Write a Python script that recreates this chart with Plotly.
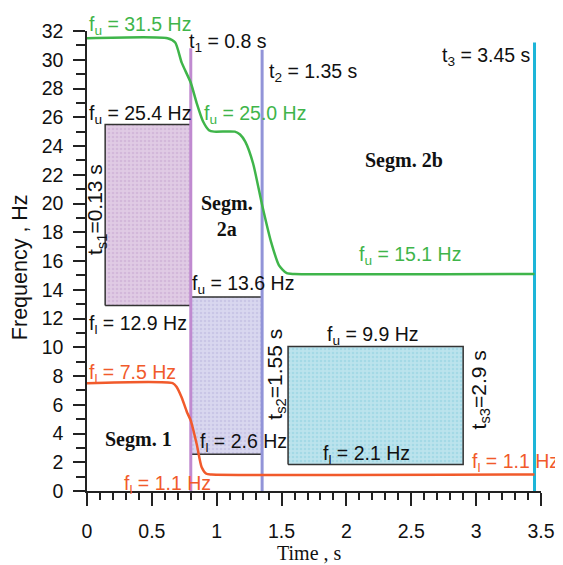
import plotly.graph_objects as go

# ---- data ----
# upper frequency envelope f_u(t)
t_u = [0, 0.62, 0.68, 0.73, 0.80, 0.845, 0.895, 0.94, 0.98, 1.14, 1.18, 1.22, 1.28, 1.35, 1.42, 1.48, 1.54, 1.60, 3.45]
f_u = [31.5, 31.5, 31.2, 29.8, 28.4, 27.0, 25.7, 25.1, 25.0, 25.0, 24.8, 24.3, 22.8, 19.9, 17.3, 15.7, 15.15, 15.1, 15.1]
# lower frequency envelope f_l(t)
t_l = [0, 0.66, 0.69, 0.73, 0.77, 0.80, 0.846, 0.884, 0.92, 0.96, 3.45]
f_l = [7.5, 7.5, 7.25, 6.5, 5.5, 4.9, 3.25, 1.65, 1.2, 1.15, 1.15]

# segment boundary times and their line tops
t_marks = [0.8, 1.35, 3.45]
t_mark_tops = [30.8, 30.7, 31.2]

# segment rectangles: (t_start, t_end, f_low, f_up)
rect_t0 = [0.14, 0.80, 1.55]
rect_t1 = [0.80, 1.35, 2.90]
rect_flo = [12.9, 2.55, 1.85]
rect_fup = [25.5, 13.5, 10.05]

x_ticks = [0, 0.5, 1, 1.5, 2, 2.5, 3, 3.5]
x_tick_text = ["0", "0.5", "1", "1.5", "2", "2.5", "3", "3.5"]
y_ticks = list(range(0, 33, 2))

# ---- styles ----
GREEN = "#3fb54a"
RED = "#f15a2b"
mark_colors = ["#c08ad0", "#9294d8", "#1cb5d8"]
rect_fill = ["#e0cbe4", "#d9d7ef", "#bce3ed"]
rect_dots = ["#c6a5cf", "#b9b6dd", "#8ccfe0"]
SANS = "Liberation Sans, Arial, sans-serif"
SERIF = "Liberation Serif, Times New Roman, serif"

fig = go.Figure()

for x0, x1, y0, y1, fc, dc in zip(rect_t0, rect_t1, rect_flo, rect_fup, rect_fill, rect_dots):
    fig.add_trace(go.Scatter(
        x=[x0, x1, x1, x0, x0], y=[y0, y0, y1, y1, y0],
        mode="lines", fill="toself", fillcolor=fc,
        fillpattern=dict(shape=".", bgcolor=fc, fgcolor=dc, size=4, solidity=0.35),
        line=dict(color="#333333", width=1.5), hoverinfo="skip", showlegend=False))

for t, top, c in zip(t_marks, t_mark_tops, mark_colors):
    fig.add_trace(go.Scatter(x=[t, t], y=[0, top], mode="lines",
                             line=dict(color=c, width=3), showlegend=False))

fig.add_trace(go.Scatter(x=t_u, y=f_u, mode="lines",
                         line=dict(color=GREEN, width=2.5, shape="spline", smoothing=0.6),
                         showlegend=False))
fig.add_trace(go.Scatter(x=t_l, y=f_l, mode="lines",
                         line=dict(color=RED, width=2.5, shape="spline", smoothing=0.6),
                         showlegend=False))

# ---- text labels: (text, x, y, color, anchor) ----
labels = [
    ("t<sub>1</sub> = 0.8 s", 0.77, 31.2, "#111", "left"),
    ("t<sub>2</sub> = 1.35 s", 1.385, 29.1, "#111", "left"),
    ("t<sub>3</sub> = 3.45 s", 3.44, 30.2, "#111", "right"),
    ("f<sub>u</sub> = 25.4 Hz", 0.0, 26.2, "#111", "left"),
    ("f<sub>u</sub> = 25.0 Hz", 0.885, 26.2, GREEN, "left"),
    ("f<sub>u</sub> = 13.6 Hz", 0.795, 14.4, "#111", "left"),
    ("f<sub>l</sub> = 12.9 Hz", 0.0, 11.6, "#111", "left"),
    ("f<sub>l</sub> = 7.5 Hz", 0.0, 8.2, RED, "left"),
    ("f<sub>l</sub> = 2.6 Hz", 0.856, 3.35, "#111", "left"),
    ("f<sub>l</sub> = 1.1 Hz", 0.27, 0.45, RED, "left"),
    ("f<sub>u</sub> = 9.9 Hz", 1.835, 10.85, "#111", "left"),
    ("f<sub>l</sub> = 2.1 Hz", 1.804, 2.55, "#111", "left"),
    ("f<sub>l</sub> = 1.1 Hz", 2.953, 2.0, RED, "left"),
    ("f<sub>u</sub> = 15.1 Hz", 2.08, 16.4, GREEN, "left"),
]
for txt, x, y, c, anc in labels:
    fig.add_annotation(x=x, y=y, xref="x", yref="y", text=txt, showarrow=False,
                       xanchor=anc, yanchor="middle",
                       font=dict(family=SANS, size=19.5, color=c))

# top label sits above the y range -> paper coordinates in y
fig.add_annotation(x=0.0, y=32.4 / 32, xref="x", yref="paper",
                   text="f<sub>u</sub> = 31.5 Hz", showarrow=False,
                   xanchor="left", yanchor="middle",
                   font=dict(family=SANS, size=19.5, color=GREEN))

rot_labels = [
    ("t<sub>s1</sub>=0.13 s", 0.075, 19.6),
    ("t<sub>s2</sub>=1.55 s", 1.45, 8.1),
    ("t<sub>s3</sub>=2.9 s", 3.03, 7.0),
]
for txt, x, y in rot_labels:
    fig.add_annotation(x=x, y=y, xref="x", yref="y", text=txt, showarrow=False,
                       textangle=-90, xanchor="center", yanchor="middle",
                       font=dict(family=SANS, size=21, color="#111"))

seg_labels = [
    ("Segm. 1", 0.40, 3.6),
    ("Segm.<br>2a", 1.077, 19.1),
    ("Segm. 2b", 2.445, 23.0),
]
for txt, x, y in seg_labels:
    fig.add_annotation(x=x, y=y, xref="x", yref="y", text="<b>" + txt + "</b>",
                       showarrow=False, xanchor="center", yanchor="middle",
                       font=dict(family=SERIF, size=20, color="#111"))

# axis titles
fig.add_annotation(x=0.491, y=-0.135, xref="paper", yref="paper", text="Time , s",
                   showarrow=False, xanchor="center", yanchor="middle",
                   font=dict(family=SERIF, size=20, color="#111"))
fig.add_annotation(x=-0.146, y=0.486, xref="paper", yref="paper", text="Frequency , Hz",
                   showarrow=False, textangle=-90, xanchor="center", yanchor="middle",
                   font=dict(family=SANS, size=21.5, color="#111"))

# the page body adds an 8px offset; margins are chosen so the plot area
# lands at x 87..541, y 24..491 in the window
fig.update_layout(
    width=563, height=565,
    margin=dict(l=79, r=30, t=16, b=82),
    paper_bgcolor="white", plot_bgcolor="white",
    showlegend=False,
    xaxis=dict(range=[0, 3.5], tickvals=x_ticks, ticktext=x_tick_text,
               showline=True, linecolor="#222", linewidth=1.5,
               ticks="outside", ticklen=13, tickwidth=1.5, tickcolor="#222",
               minor=dict(dtick=0.1, ticks="outside", ticklen=7, tickwidth=1.5, tickcolor="#222"),
               showgrid=False, zeroline=False, ticklabelstandoff=9,
               tickfont=dict(family=SANS, size=19.5, color="#111")),
    yaxis=dict(range=[0, 32], tickvals=y_ticks,
               showline=True, linecolor="#222", linewidth=1.5,
               ticks="outside", ticklen=12, tickwidth=1.5, tickcolor="#222",
               minor=dict(dtick=1, ticks="outside", ticklen=9, tickwidth=1.5, tickcolor="#222"),
               showgrid=False, zeroline=False, ticklabelstandoff=6,
               tickfont=dict(family=SANS, size=19.5, color="#111")),
)

fig.write_html("out.html")
